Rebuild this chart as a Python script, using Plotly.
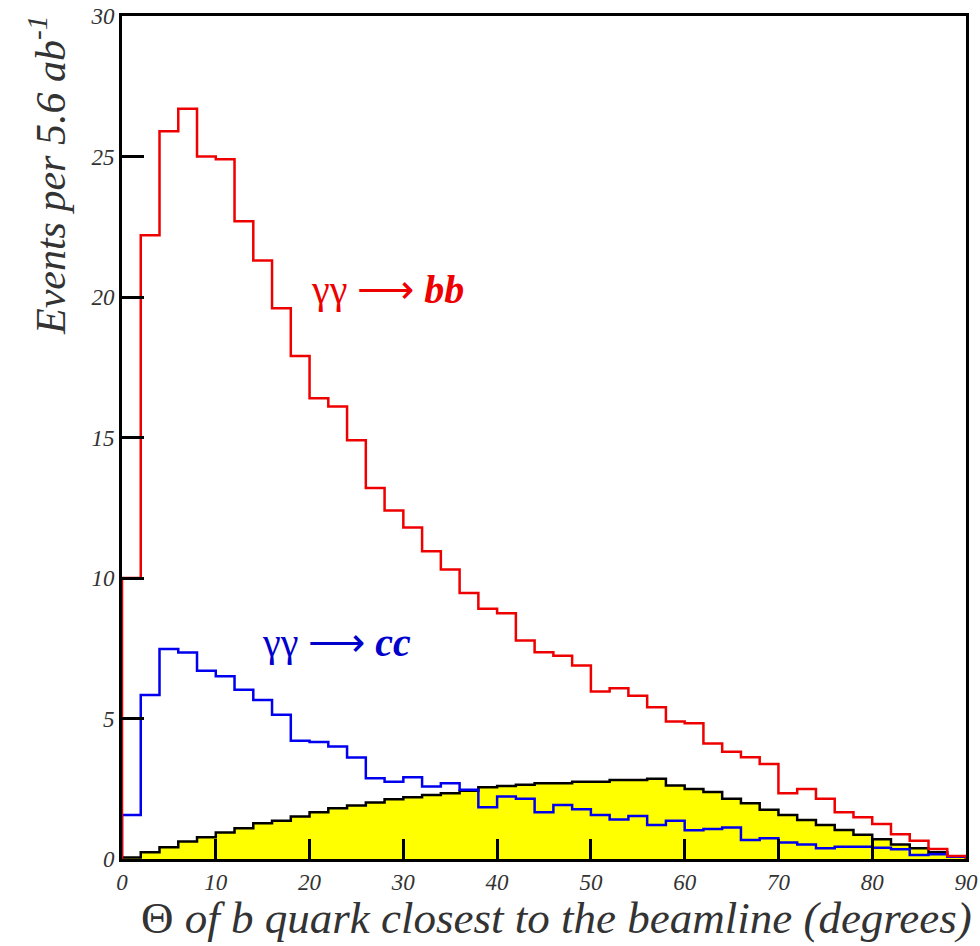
import numpy as np
import plotly.graph_objects as go

# bin edges: 0..90 degrees, 2-degree bins
bin_width = 2
bin_edges = list(range(0, 92, bin_width))

# gamma gamma -> b b (red)
bb_values = [10.0, 22.2, 25.9, 26.7, 25.0, 24.9, 22.7, 21.3, 19.6, 17.9,
             16.4, 16.1, 14.9, 13.2, 12.4, 11.8, 10.95, 10.3, 9.47, 8.91,
             8.75, 7.78, 7.36, 7.23, 6.89, 5.96, 6.08, 5.81, 5.40, 4.89,
             4.83, 4.11, 3.82, 3.62, 3.38, 2.34, 2.49, 2.14, 1.66, 1.49,
             1.25, 0.88, 0.65, 0.36, 0.11]

# gamma gamma -> c c (blue)
cc_values = [1.57, 5.84, 7.47, 7.35, 6.70, 6.50, 6.02, 5.66, 5.13, 4.21,
             4.16, 4.00, 3.61, 2.87, 2.75, 2.91, 2.58, 2.70, 2.46, 1.84,
             2.22, 2.14, 1.66, 1.92, 1.77, 1.57, 1.41, 1.53, 1.21, 1.36,
             1.02, 1.07, 1.12, 0.68, 0.74, 0.59, 0.52, 0.38, 0.44, 0.44,
             0.40, 0.35, 0.14, 0.17, 0.08]

# signal (yellow filled, black outline)
sig_values = [0.05, 0.24, 0.42, 0.62, 0.77, 0.94, 1.09, 1.27, 1.36, 1.51,
              1.66, 1.81, 1.90, 2.01, 2.13, 2.20, 2.28, 2.34, 2.43, 2.55,
              2.60, 2.64, 2.70, 2.70, 2.75, 2.75, 2.81, 2.81, 2.86, 2.62,
              2.49, 2.38, 2.14, 1.98, 1.75, 1.57, 1.39, 1.21, 1.03, 0.86,
              0.70, 0.52, 0.38, 0.24, 0.08]

x_ticks = [0, 10, 20, 30, 40, 50, 60, 70, 80, 90]
y_ticks = [0, 5, 10, 15, 20, 25, 30]


def step_xy(vals):
    xs = [bin_edges[0]] + bin_edges + [bin_edges[-1]]
    ys = [0] + list(vals) + [vals[-1], 0]
    return xs, ys


FONT = "Liberation Serif, Times New Roman, Times, serif"
W, H = 980, 946
ML, MR, MT, MB = 122, 14, 16, 87
PW, PH = W - ML - MR, H - MT - MB


def px_to_paper(px, py):
    return (px - ML) / PW, (H - MB - py) / PH


fig = go.Figure()

sx, sy = step_xy(sig_values)
fig.add_trace(go.Scatter(x=sx, y=sy, mode="lines", line=dict(shape="hv", color="black", width=2.5),
                         fill="tozeroy", fillcolor="#ffff00", hoverinfo="skip"))
cx, cy = step_xy(cc_values)
fig.add_trace(go.Scatter(x=cx, y=cy, mode="lines", line=dict(shape="hv", color="#0000ee", width=2.5),
                         hoverinfo="skip"))
bx, by = step_xy(bb_values)
fig.add_trace(go.Scatter(x=bx, y=by, mode="lines", line=dict(shape="hv", color="#ee0000", width=2.5),
                         hoverinfo="skip"))

ax_, ay_ = px_to_paper(309, 290)
fig.add_annotation(x=ax_, y=ay_, xref="paper", yref="paper",
                   text="γγ ⟶ <b><i>bb</i></b>", showarrow=False,
                   xanchor="left", yanchor="middle",
                   font=dict(family=FONT, size=40, color="#ee0000"))
ax_, ay_ = px_to_paper(260, 642)
fig.add_annotation(x=ax_, y=ay_, xref="paper", yref="paper",
                   text="γγ ⟶ <b><i>cc</i></b>", showarrow=False,
                   xanchor="left", yanchor="middle",
                   font=dict(family=FONT, size=40, color="#0000cc"))

ax_, ay_ = px_to_paper(47, 176)
fig.add_annotation(x=ax_, y=ay_, xref="paper", yref="paper",
                   text="<i>Events per 5.6 ab<sup>-1</sup></i>", showarrow=False,
                   xanchor="center", yanchor="middle",
                   textangle=-90, font=dict(family=FONT, size=42, color="#333333"))

ax_, ay_ = px_to_paper(556, 918)
fig.add_annotation(x=ax_, y=ay_, xref="paper", yref="paper",
                   text="Θ <i>of b quark closest to the beamline (degrees)</i>", showarrow=False,
                   xanchor="center", yanchor="middle",
                   font=dict(family=FONT, size=45, color="#333333"))

fig.update_layout(
    width=W, height=H,
    margin=dict(l=ML, r=MR, t=MT, b=MB, autoexpand=False),
    paper_bgcolor="white", plot_bgcolor="white",
    showlegend=False,
    xaxis=dict(range=[0, 90], tickvals=x_ticks, ticktext=[f"<i>{v}</i>" for v in x_ticks],
               ticks="inside", ticklen=20, tickwidth=3, tickcolor="black",
               showline=True, linewidth=3, linecolor="black", mirror=True,
               showgrid=False, zeroline=False, automargin=False,
               tickfont=dict(family=FONT, size=23, color="#333333")),
    yaxis=dict(range=[0, 30], tickvals=y_ticks, ticktext=[f"<i>{v}</i>" for v in y_ticks],
               ticks="inside", ticklen=22, tickwidth=3, tickcolor="black",
               showline=True, linewidth=3, linecolor="black", mirror=True,
               showgrid=False, zeroline=False, automargin=False,
               tickfont=dict(family=FONT, size=23, color="#333333")),
)

fig.write_html("out.html")
